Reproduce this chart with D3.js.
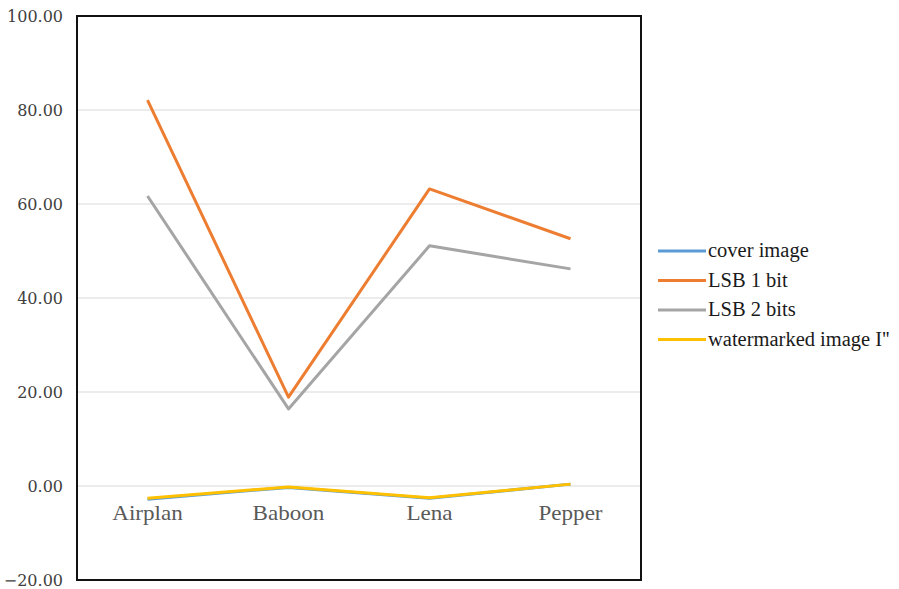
<!DOCTYPE html>
<html>
<head>
<meta charset="utf-8">
<script src="https://cdn.jsdelivr.net/npm/d3@7"></script>
<style>
  html, body { margin: 0; padding: 0; background: #fff; }
  svg { display: block; }
  .serif { font-family: "Liberation Serif"; }
  .tick-serif { font-family: "DejaVu Serif"; }
</style>
</head>
<body>
<svg id="chart" width="899" height="589"></svg>
<script>
// Test images on the x axis
const categories = ["Airplan", "Baboon", "Lena", "Pepper"];

// Series values, one per image
const seriesNames = ["cover image", "LSB 1 bit", "LSB 2 bits", "watermarked image I''"];
const coverImage = [-2.8, -0.3, -2.6, 0.4];
const lsb1Bit = [82.1, 18.9, 63.2, 52.6];
const lsb2Bits = [61.7, 16.4, 51.1, 46.2];
const watermarked = [-2.6, -0.2, -2.5, 0.4];

const seriesColors = ["#5B9BD5", "#ED7D31", "#A5A5A5", "#FFC000"];

// Y axis ticks
const yTicks = [-20, 0, 20, 40, 60, 80, 100];

const series = [coverImage, lsb1Bit, lsb2Bits, watermarked].map((values, i) => ({
  name: seriesNames[i],
  color: seriesColors[i],
  values
}));

const svg = d3.select("#chart");
const plot = { left: 77, top: 16, right: 641, bottom: 580 };

const x = d3.scalePoint().domain(categories).range([plot.left, plot.right]).padding(0.5);
const y = d3.scaleLinear().domain([-20, 100]).range([plot.bottom, plot.top]);

// Horizontal gridlines
svg.append("g")
  .selectAll("line")
  .data(yTicks.filter(t => t > -20 && t < 100))
  .join("line")
  .attr("x1", plot.left).attr("x2", plot.right)
  .attr("y1", d => y(d)).attr("y2", d => y(d))
  .attr("stroke", "#d9d9d9").attr("stroke-width", 1);

// Y axis tick labels
const yAxis = d3.axisLeft(y).tickValues(yTicks).tickSize(0).tickPadding(14)
  .tickFormat(d3.format(".2f"));
const yg = svg.append("g").attr("transform", `translate(${plot.left},0)`).call(yAxis)
  .attr("font-family", null);
yg.select(".domain").remove();
yg.selectAll("text")
  .attr("class", "tick-serif")
  .style("font-size", "16px")
  .attr("fill", "#404040");

// Series lines
const line = d3.line()
  .x((d, i) => x(categories[i]))
  .y(d => y(d));

svg.append("g")
  .selectAll("path")
  .data(series)
  .join("path")
  .attr("d", d => line(d.values))
  .attr("fill", "none")
  .attr("stroke", d => d.color)
  .attr("stroke-width", 3)
  .attr("stroke-linejoin", "round");

// Category labels, slightly widened
svg.append("g")
  .selectAll("text")
  .data(categories)
  .join("text")
  .attr("class", "serif")
  .attr("transform", d => `translate(${x(d)},${y(0) + 34}) scale(1.1,1)`)
  .attr("text-anchor", "middle")
  .style("font-size", "21px")
  .attr("fill", "#595959")
  .text(d => d);

// Frame around the plot area
svg.append("rect")
  .attr("x", plot.left).attr("y", plot.top)
  .attr("width", plot.right - plot.left).attr("height", plot.bottom - plot.top)
  .attr("fill", "none").attr("stroke", "#111").attr("stroke-width", 2);

// Legend
const legend = svg.append("g").attr("transform", "translate(658,251)");
const item = legend.selectAll("g")
  .data(series)
  .join("g")
  .attr("transform", (d, i) => `translate(0,${i * 29.5})`);
item.append("line")
  .attr("x1", 0).attr("x2", 48)
  .attr("stroke", d => d.color).attr("stroke-width", 3);
item.append("text")
  .attr("class", "serif")
  .attr("x", 50).attr("y", 6)
  .style("font-size", "20.5px")
  .attr("fill", "#1a1a1a")
  .text(d => d.name);
</script>
</body>
</html>
